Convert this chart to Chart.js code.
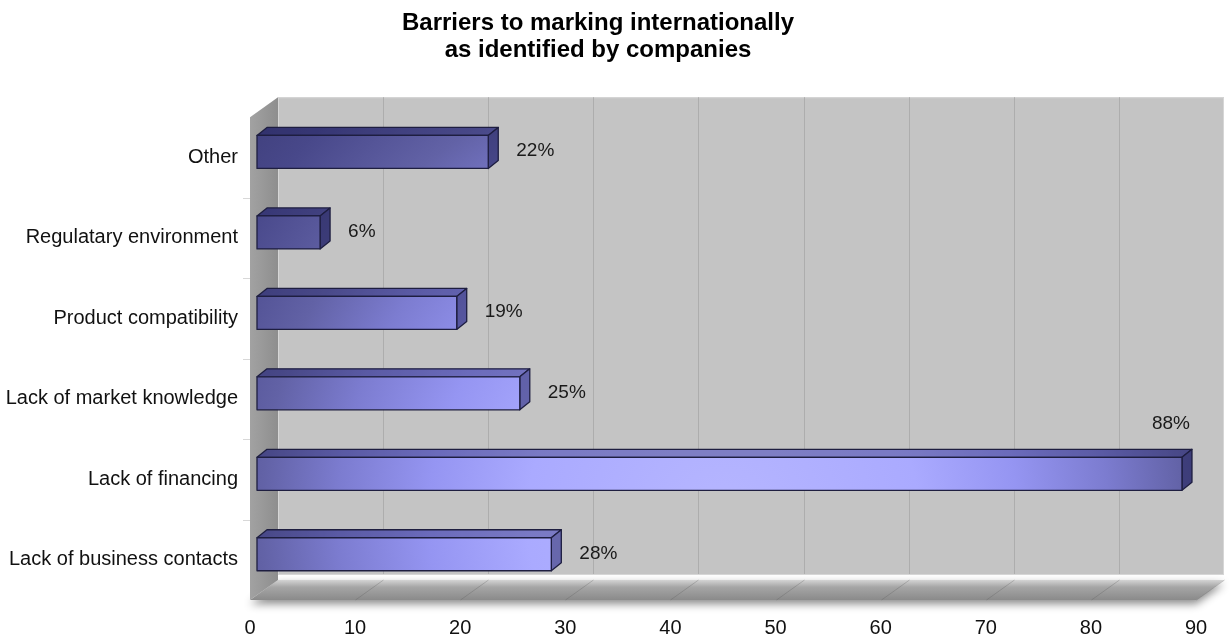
<!DOCTYPE html>
<html>
<head>
<meta charset="utf-8">
<script src="https://cdn.jsdelivr.net/npm/chart.js@4.4.1/dist/chart.umd.min.js"></script>
<style>
  html, body { margin: 0; padding: 0; background: #fff; }
  canvas { display: block; }
</style>
</head>
<body>
<canvas id="myChart" width="1230" height="637"></canvas>
<script>
// data
const categories = ['Other', 'Regulatary environment', 'Product compatibility',
  'Lack of market knowledge', 'Lack of financing', 'Lack of business contacts'];
const shares = [22, 6, 19, 25, 88, 28];
const axisMax = 90;
const axisStep = 10;
const titleLines = ['Barriers to marking internationally', 'as identified by companies'];

const FONT = "'Liberation Sans', Arial, sans-serif";
Chart.defaults.font.family = FONT;

// depth of the walls and of the bars (3d look)
const WALL_DX = 28, WALL_DY = -20;
const BAR_SHIFT_X = 7, BAR_SHIFT_Y = -5.5;
const BAR_DX = 10, BAR_DY = -8;

function barGradient(ctx, a) {
  const cx = a.left + a.width * 0.5, cy = a.top + a.height * 0.83;
  const g = ctx.createRadialGradient(cx, cy, 0, cx, cy, 700);
  g.addColorStop(0, '#b6b6ff');
  g.addColorStop(0.28, '#aaaaff');
  g.addColorStop(0.42, '#9595f2');
  g.addColorStop(0.55, '#7c7cd0');
  g.addColorStop(0.66, '#6262a6');
  g.addColorStop(0.8, '#48488a');
  g.addColorStop(1, '#34346a');
  return g;
}

const threeD = {
  id: 'threeD',
  beforeDraw(chart) {
    const ctx = chart.ctx, a = chart.chartArea, x = chart.scales.x;
    const L = a.left, R = a.right, T = a.top, B = a.bottom;
    ctx.save();

    // floor with its shadow
    ctx.save();
    ctx.shadowColor = 'rgba(0,0,0,0.45)';
    ctx.shadowBlur = 8;
    ctx.shadowOffsetY = 4;
    const fg = ctx.createLinearGradient(0, B + WALL_DY, 0, B);
    fg.addColorStop(0, '#d4d4d4');
    fg.addColorStop(0.35, '#a6a6a6');
    fg.addColorStop(1, '#8a8a8a');
    ctx.fillStyle = fg;
    ctx.beginPath();
    ctx.moveTo(L, B);
    ctx.lineTo(L + WALL_DX, B + WALL_DY);
    ctx.lineTo(R + WALL_DX, B + WALL_DY);
    ctx.lineTo(R, B);
    ctx.closePath();
    ctx.fill();
    ctx.restore();

    // back wall
    ctx.fillStyle = '#c4c4c4';
    ctx.fillRect(L + WALL_DX, T + WALL_DY, R - L, B - T - 6);
    ctx.strokeStyle = '#d6d6d6';
    ctx.lineWidth = 1;
    ctx.strokeRect(L + WALL_DX + 0.5, T + WALL_DY + 0.5, R - L - 1, B - T - 6);

    // left wall
    const lg = ctx.createLinearGradient(L, 0, L + WALL_DX, 0);
    lg.addColorStop(0, '#a2a2a2');
    lg.addColorStop(1, '#8e8e8e');
    ctx.fillStyle = lg;
    ctx.beginPath();
    ctx.moveTo(L, T);
    ctx.lineTo(L + WALL_DX, T + WALL_DY);
    ctx.lineTo(L + WALL_DX, B + WALL_DY);
    ctx.lineTo(L, B);
    ctx.closePath();
    ctx.fill();

    // grid lines on back wall and floor
    ctx.lineWidth = 1;
    x.ticks.forEach(t => {
      const px = Math.round(x.getPixelForValue(t.value)) + 0.5;
      if (t.value > 0 && t.value < axisMax) {
        ctx.strokeStyle = '#adadad';
        ctx.beginPath();
        ctx.moveTo(px + WALL_DX, T + WALL_DY);
        ctx.lineTo(px + WALL_DX, B + WALL_DY - 6);
        ctx.stroke();
      }
      if (t.value > 0) {
        ctx.strokeStyle = 'rgba(90,90,90,0.3)';
        ctx.beginPath();
        ctx.moveTo(px, B);
        ctx.lineTo(px + WALL_DX, B + WALL_DY);
        ctx.stroke();
      }
    });

    // small category separators left of the wall
    ctx.strokeStyle = '#d8d8d8';
    const step = a.height / categories.length;
    for (let i = 1; i < categories.length; i++) {
      const py = Math.round(T + step * i) + 0.5;
      ctx.beginPath();
      ctx.moveTo(L - 7, py);
      ctx.lineTo(L, py);
      ctx.stroke();
    }
    ctx.restore();
  },
  afterDatasetsDraw(chart) {
    const ctx = chart.ctx, a = chart.chartArea;
    const meta = chart.getDatasetMeta(0);
    const grad = barGradient(ctx, a);
    ctx.save();
    ctx.lineJoin = 'round';
    ctx.strokeStyle = '#1e1e40';
    ctx.lineWidth = 1.3;
    meta.data.forEach((bar, i) => {
      const p = bar.getProps(['x', 'y', 'base', 'height'], true);
      const x0 = p.base + BAR_SHIFT_X, x1 = p.x + BAR_SHIFT_X;
      const y0 = p.y + BAR_SHIFT_Y - p.height / 2, y1 = p.y + BAR_SHIFT_Y + p.height / 2;

      // top face
      ctx.beginPath();
      ctx.moveTo(x0, y0);
      ctx.lineTo(x0 + BAR_DX, y0 + BAR_DY);
      ctx.lineTo(x1 + BAR_DX, y0 + BAR_DY);
      ctx.lineTo(x1, y0);
      ctx.closePath();
      ctx.fillStyle = grad;
      ctx.fill();
      ctx.fillStyle = 'rgba(20,20,70,0.32)';
      ctx.fill();
      ctx.stroke();

      // side face
      ctx.beginPath();
      ctx.moveTo(x1, y0);
      ctx.lineTo(x1 + BAR_DX, y0 + BAR_DY);
      ctx.lineTo(x1 + BAR_DX, y1 + BAR_DY);
      ctx.lineTo(x1, y1);
      ctx.closePath();
      ctx.fillStyle = grad;
      ctx.fill();
      ctx.fillStyle = 'rgba(20,20,70,0.45)';
      ctx.fill();
      ctx.stroke();

      // front face
      ctx.beginPath();
      ctx.rect(x0, y0, x1 - x0, y1 - y0);
      ctx.fillStyle = grad;
      ctx.fill();
      ctx.stroke();

      // value label
      const txt = shares[i] + '%';
      ctx.font = '19px ' + FONT;
      ctx.fillStyle = '#1a1a1a';
      ctx.textBaseline = 'middle';
      const w = ctx.measureText(txt).width;
      if (x1 + 28 + w > a.right + WALL_DX) {
        ctx.textAlign = 'right';
        ctx.fillText(txt, x1 + 8, y0 - 34);
      } else {
        ctx.textAlign = 'left';
        ctx.fillText(txt, x1 + 28, p.y + BAR_SHIFT_Y - 1);
      }
    });
    ctx.restore();
  }
};

new Chart(document.getElementById('myChart'), {
  type: 'bar',
  data: {
    labels: categories,
    datasets: [{
      data: shares,
      backgroundColor: 'rgba(0,0,0,0)',
      borderWidth: 0,
      barThickness: 33
    }]
  },
  options: {
    indexAxis: 'y',
    responsive: false,
    animation: false,
    devicePixelRatio: 1,
    layout: { padding: { left: 0, right: 34, top: 0, bottom: 0 } },
    plugins: {
      legend: { display: false },
      tooltip: { enabled: false },
      title: {
        display: true,
        text: titleLines,
        color: '#000',
        font: { size: 24, weight: 'bold', lineHeight: 1.13 },
        padding: { top: 10, bottom: 53 }
      }
    },
    scales: {
      x: {
        min: 0,
        max: axisMax,
        ticks: { stepSize: axisStep, color: '#111', font: { size: 20 }, padding: 16 },
        grid: { display: false, drawTicks: false },
        border: { display: false },
        afterFit(s) { s.height = 37; }
      },
      y: {
        ticks: { color: '#111', font: { size: 20 }, padding: 12 },
        grid: { display: false, drawTicks: false },
        border: { display: false },
        afterFit(s) { s.width = 250; }
      }
    }
  },
  plugins: [threeD]
});
</script>
</body>
</html>
